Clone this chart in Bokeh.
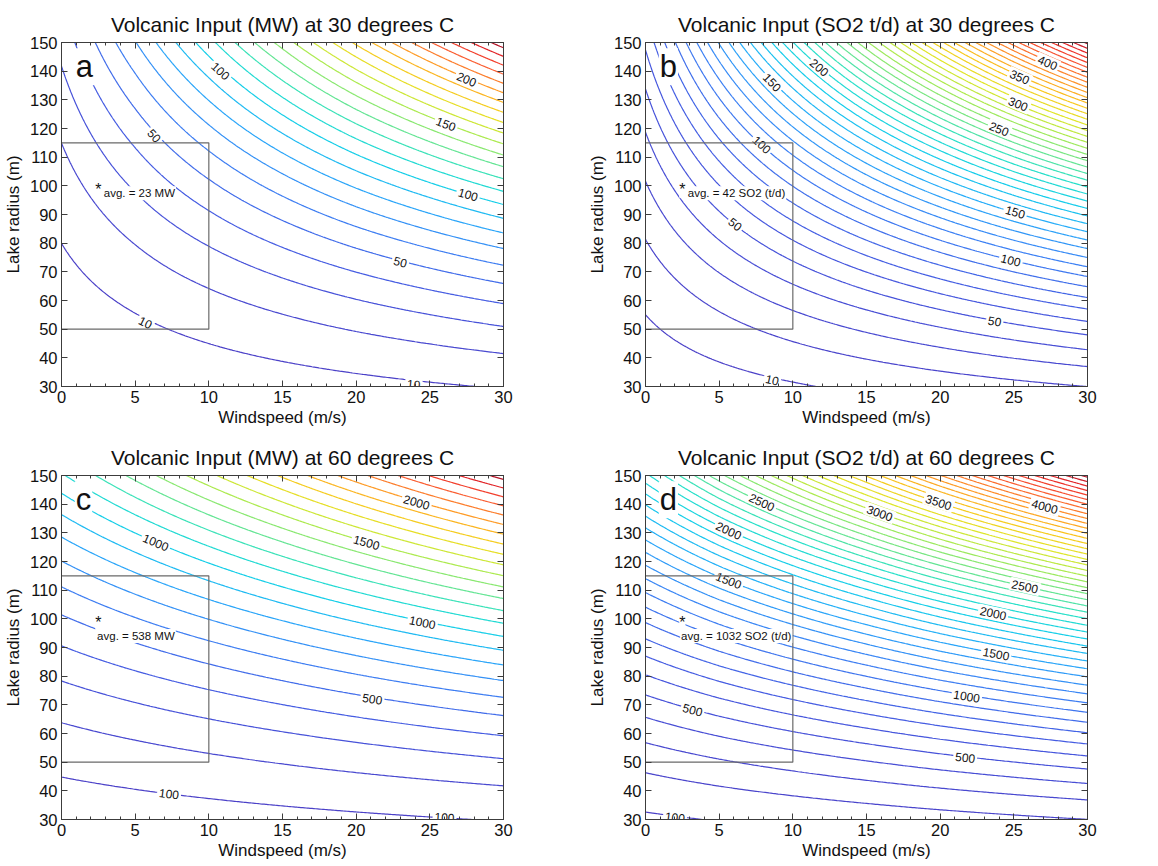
import numpy as np
from bokeh.plotting import figure
from bokeh.layouts import column, row
from bokeh.models import LinearAxis, FixedTicker, CustomJSTickFormatter, ColumnDataSource, Range1d
from bokeh.core.properties import value
from bokeh.embed import file_html
from bokeh.resources import INLINE

FONT = "Liberation Sans"

# ---------------- data ----------------
wind_nodes = [0, 5, 10, 15, 20, 25, 30]          # m/s
x_ticks = [0, 5, 10, 15, 20, 25, 30]
x_minor = list(range(0, 31))
y_ticks = [30, 40, 50, 60, 70, 80, 90, 100, 110, 120, 130, 140, 150]

# Field = area_coef(wind) * radius^2 + perim_coef * radius   (coefficients)
title_a = "Volcanic Input (MW) at 30 degrees C"
area_coef_a = [0.00140, 0.00300, 0.00465, 0.00632, 0.00800, 0.00965, 0.01130]
perim_coef_a = 0.01323
levels_a = list(range(10, 251, 10))
lab_text_a = ["100", "200", "50", "150", "100", "50", "10", "10"]
lab_wind_a = [10.8, 27.5, 6.3, 26.1, 27.6, 23.0, 5.7, 23.9]
lab_rad_a = [140.1, 137.2, 117.5, 121.6, 97.0, 73.5, 52.3, 30.8]
avg_label_a = "avg. = 23 MW"

title_b = "Volcanic Input (SO2 t/d) at 30 degrees C"
area_coef_b = [0.00244, 0.00550, 0.00855, 0.01160, 0.01465, 0.01770, 0.02070]
perim_coef_b = 0.0474
levels_b = list(range(10, 471, 10))
lab_text_b = ["200", "150", "400", "350", "300", "250", "100", "150", "50", "100", "50", "10"]
lab_wind_b = [11.8, 8.6, 27.3, 25.4, 25.3, 24.0, 7.9, 25.1, 6.1, 24.8, 23.7, 8.6]
lab_rad_b = [141.3, 136.1, 143.0, 138.0, 128.6, 119.9, 114.4, 90.9, 86.6, 74.1, 52.8, 32.3]
avg_label_b = "avg. = 42 SO2 (t/d)"

title_c = "Volcanic Input (MW) at 60 degrees C"
area_coef_c = [0.0477, 0.0585, 0.0693, 0.0801, 0.0910, 0.1018, 0.1125]
perim_coef_c = 0.0953
levels_c = list(range(100, 2501, 100))
lab_text_c = ["2000", "1000", "1500", "1000", "500", "100", "100"]
lab_wind_c = [24.1, 6.4, 20.7, 24.5, 21.1, 7.3, 26.0]
lab_rad_c = [140.7, 126.7, 126.7, 98.8, 72.1, 39.0, 30.8]
avg_label_c = "avg. = 538 MW"

title_d = "Volcanic Input (SO2 t/d) at 60 degrees C"
area_coef_d = [0.0916, 0.1135, 0.1345, 0.1555, 0.1770, 0.1980, 0.2190]
perim_coef_d = 0.0791
levels_d = list(range(100, 4901, 100))
lab_text_d = ["2500", "3500", "3000", "4000", "2000", "1500", "2500", "2000", "1500", "1000", "500", "500", "100"]
lab_wind_d = [7.9, 19.9, 15.9, 27.1, 5.65, 5.65, 25.75, 23.6, 23.8, 21.8, 3.2, 21.7, 2.0]
lab_rad_d = [140.7, 140.7, 136.9, 139.2, 130.8, 113.4, 111.3, 102.0, 87.8, 73.0, 68.3, 51.7, 30.8]
avg_label_d = "avg. = 1032 SO2 (t/d)"

box_wind = [0, 10]
box_radius = [50, 115]
avg_wind = 2.5
avg_radius = 100.2

# ---------------- styling helpers ----------------
FRAME_W, FRAME_H = 442, 344
AXIS_COL = "#3c3c3c"

anch_t = [0.00, 0.12, 0.22, 0.30, 0.37, 0.44, 0.51, 0.58, 0.65, 0.72, 0.80, 0.88, 0.95, 1.00]
anch_r = [75, 70, 60, 40, 20, 40, 110, 170, 225, 250, 255, 250, 235, 180]
anch_g = [65, 90, 130, 170, 205, 225, 230, 235, 230, 200, 150, 90, 40, 20]
anch_b = [200, 225, 245, 250, 235, 200, 140, 80, 40, 30, 40, 50, 40, 40]


def level_colors(levels):
    t = (np.asarray(levels, float) - levels[0]) / (levels[-1] - levels[0])
    r = np.interp(t, anch_t, anch_r)
    g = np.interp(t, anch_t, anch_g)
    b = np.interp(t, anch_t, anch_b)
    return ["#%02x%02x%02x" % (int(a), int(c), int(d)) for a, c, d in zip(r, g, b)]


def make_panel(title, area_coef, perim, levels, lab_text, lab_wind, lab_rad,
               letter, avg_label, avg_below, left_b, right_b):
    p = figure(frame_width=FRAME_W, frame_height=FRAME_H,
               x_range=Range1d(0, 30), y_range=Range1d(30, 150),
               min_border_left=left_b, min_border_right=right_b,
               min_border_top=42, min_border_bottom=47,
               output_backend="svg", toolbar_location=None, title=title)
    p.title.align = "center"
    p.title.text_font = FONT
    p.title.text_font_size = "21px"
    p.title.text_font_style = "normal"
    p.title.text_color = "#111111"
    p.title.standoff = 14
    p.grid.visible = False
    p.outline_line_color = AXIS_COL
    p.background_fill_color = "white"
    p.border_fill_color = "white"

    # field
    wg = np.linspace(0, 30, 241)
    rg = np.linspace(30, 150, 481)
    A = np.interp(wg, wind_nodes, area_coef)
    Z = A[None, :] * rg[:, None] ** 2 + perim * rg[:, None]
    cols = level_colors(levels)
    p.contour(wg, rg, Z, levels, line_color=cols, line_width=1.2)

    # contour labels, rotated along the curves
    lw = np.asarray(lab_wind, float)
    lr = np.asarray(lab_rad, float)
    slope_nodes = np.diff(area_coef) / np.diff(wind_nodes)
    dA = slope_nodes[np.clip(np.searchsorted(wind_nodes, lw, side="right") - 1, 0, len(slope_nodes) - 1)]
    Al = np.interp(lw, wind_nodes, area_coef)
    drdu = -dA * lr ** 2 / (2 * Al * lr + perim)
    sx = FRAME_W / 30.0
    sy = FRAME_H / 120.0
    ang = np.arctan2(drdu * sy, sx)
    src = ColumnDataSource(dict(x=lw, y=lr, text=lab_text, angle=ang))
    p.text(x="x", y="y", text="text", angle="angle", source=src,
           text_align="center", text_baseline="middle",
           text_font=value(FONT), text_font_size="12px", text_color="#111111",
           background_fill_color="white", padding=2)

    # averaging box, average point and label
    p.line(x=[box_wind[0], box_wind[1], box_wind[1], box_wind[0]],
           y=[box_radius[1], box_radius[1], box_radius[0], box_radius[0]],
           line_color="#6a6a6a", line_width=1.2)
    if avg_below:
        p.text(x=[avg_wind - 0.15], y=[avg_radius - 6.2], text=[avg_label], text_align="left",
               text_baseline="middle", text_font=value(FONT), text_font_size="11.5px",
               text_color="#111111", background_fill_color="white", padding=1)
    else:
        p.text(x=[avg_wind + 0.3], y=[avg_radius - 2.8], text=[avg_label], text_align="left",
               text_baseline="middle", text_font=value(FONT), text_font_size="11.5px",
               text_color="#111111", background_fill_color="white", padding=1)
    p.text(x=[avg_wind], y=[avg_radius], text=["*"], text_align="center",
           text_baseline="middle", y_offset=4,
           text_font=value(FONT), text_font_size="16px", text_color="#111111",
           background_fill_color="white")

    # panel letter
    p.text(x=[0.9], y=[148], text=[letter], text_align="left", text_baseline="top",
           text_font=value(FONT), text_font_size="31px", text_color="#111111",
           background_fill_color="white", padding=1)

    # axes
    p.xaxis.axis_label = "Windspeed (m/s)"
    p.yaxis.axis_label = "Lake radius (m)"
    p.xaxis.ticker = FixedTicker(ticks=x_ticks, minor_ticks=x_minor)
    p.yaxis.ticker = FixedTicker(ticks=y_ticks, minor_ticks=[])
    for ax in (p.xaxis[0], p.yaxis[0]):
        ax.axis_line_color = AXIS_COL
        ax.major_tick_line_color = AXIS_COL
        ax.minor_tick_line_color = AXIS_COL
        ax.major_tick_in = 6
        ax.major_tick_out = 0
        ax.minor_tick_in = 3
        ax.minor_tick_out = 0
        ax.major_label_text_font = FONT
        ax.major_label_text_font_size = "16.5px"
        ax.major_label_text_color = "#111111"
        ax.major_label_standoff = 4
        ax.axis_label_text_font = FONT
        ax.axis_label_text_font_size = "17px"
        ax.axis_label_text_font_style = "normal"
        ax.axis_label_text_color = "#111111"
        ax.axis_label_standoff = 2
    p.yaxis[0].axis_label_standoff = 4
    blank = CustomJSTickFormatter(code="return ''")
    top = LinearAxis(ticker=FixedTicker(ticks=x_ticks, minor_ticks=x_minor), formatter=blank,
                     major_label_standoff=0, axis_line_color=AXIS_COL,
                     major_tick_line_color=AXIS_COL, minor_tick_line_color=AXIS_COL,
                     major_tick_in=6, major_tick_out=0, minor_tick_in=3, minor_tick_out=0)
    rgt = LinearAxis(ticker=FixedTicker(ticks=y_ticks, minor_ticks=[]), formatter=blank,
                     major_label_standoff=0, axis_line_color=AXIS_COL,
                     major_tick_line_color=AXIS_COL, minor_tick_line_color=AXIS_COL,
                     major_tick_in=6, major_tick_out=0, minor_tick_in=3, minor_tick_out=0)
    p.add_layout(top, "above")
    p.add_layout(rgt, "right")
    return p


pa = make_panel(title_a, area_coef_a, perim_coef_a, levels_a, lab_text_a, lab_wind_a, lab_rad_a,
                "a", avg_label_a, False, 61, 81)
pb = make_panel(title_b, area_coef_b, perim_coef_b, levels_b, lab_text_b, lab_wind_b, lab_rad_b,
                "b", avg_label_b, False, 61, 71)
pc = make_panel(title_c, area_coef_c, perim_coef_c, levels_c, lab_text_c, lab_wind_c, lab_rad_c,
                "c", avg_label_c, True, 61, 81)
pd_ = make_panel(title_d, area_coef_d, perim_coef_d, levels_d, lab_text_d, lab_wind_d, lab_rad_d,
                 "d", avg_label_d, True, 61, 71)

layout = column(row(pa, pb, spacing=0), row(pc, pd_, spacing=0), spacing=0)
open("out.html", "w").write(file_html(layout, INLINE))
